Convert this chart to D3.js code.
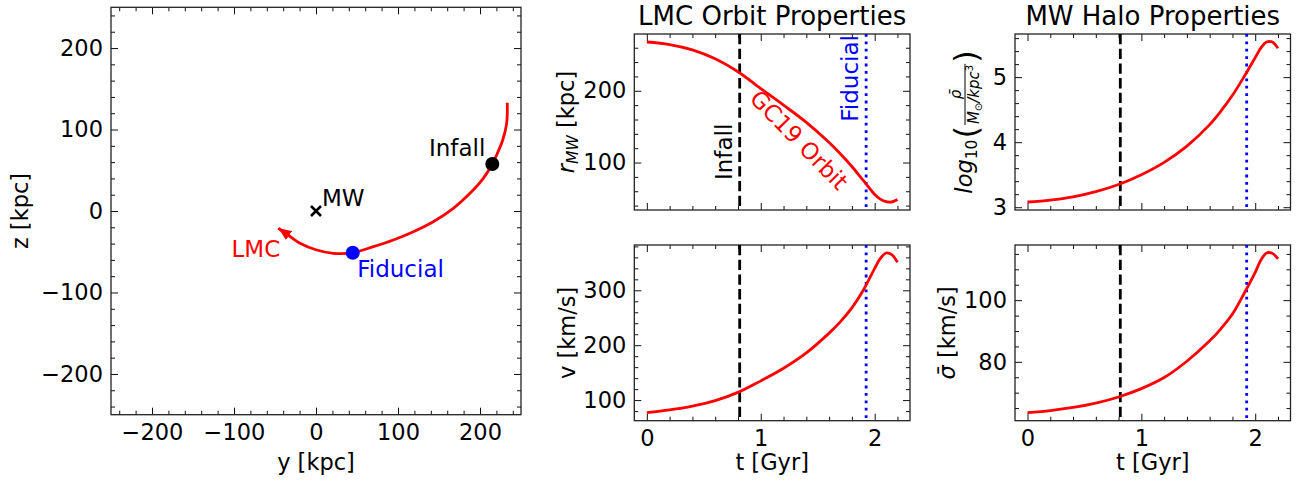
<!DOCTYPE html>
<html>
<head>
<meta charset="utf-8">
<script src="https://cdn.jsdelivr.net/npm/d3@7"></script>
<style>
  body { margin: 0; background: #fff; }
  svg { display: block; font-family: "DejaVu Sans", sans-serif; }
</style>
</head>
<body>
<svg id="fig" width="1307" height="481"></svg>
<script>
// ---- data -------------------------------------------------------------
// time since the start of the integration (Gyr)
const timeGyr      = [0, 0.2, 0.4, 0.6, 0.8, 1.0, 1.2, 1.4, 1.6, 1.7, 1.8, 1.9, 2.0, 2.05, 2.1, 2.15, 2.2];
// LMC galactocentric distance (kpc)
const radiusMW     = [268, 264.5, 257, 244.5, 226.5, 203, 180, 156, 128, 112, 94.5, 75, 55.5, 49, 45.5, 45, 48.5];
// LMC speed (km/s)
const speedLMC     = [77, 82, 89, 99, 114, 135, 158, 186, 222, 243, 268, 300, 340, 358, 368, 365, 351];
// log10 of mean MW halo density inside the LMC orbit (Msun/kpc^3)
const logDensityMW = [3.08, 3.11, 3.16, 3.24, 3.35, 3.50, 3.69, 3.94, 4.27, 4.48, 4.72, 5.0, 5.30, 5.45, 5.54, 5.54, 5.445];
// mean MW halo velocity dispersion (km/s)
const sigmaMW      = [63.5, 64.2, 65.2, 66.6, 68.6, 71.3, 74.9, 80.2, 86.8, 90.8, 95.5, 102, 109, 113, 115.3, 115.2, 113.4];

// LMC track projected on the y-z plane (kpc), from the start to the present
const orbitY = [233.3, 232.5, 227.7, 220.3, 215, 204, 187.8, 167.5, 143, 118.7, 94.3, 69.9, 44.8, 21.1, 0.8, -19.5, -35.7, -46];
const orbitZ = [132.9, 107.6, 87.1, 68.7, 57.7, 40.1, 21.7, 3.3, -13.1, -25.4, -35.6, -43.8, -51.2, -51.9, -47.9, -39.6, -28.2, -21.2];

const mwCentre      = [0, 0];
const infallPoint   = [215, 57.7];
const fiducialPoint = [44.8, -51.2];
const infallTime    = 0.815;
const fiducialTime  = 1.925;

const panelTitles = ["LMC Orbit Properties", "MW Halo Properties"];
const yzTicks      = [-200, -100, 0, 100, 200];
const timeTicks    = [0, 1, 2];
const radiusTicks  = [100, 200];
const speedTicks   = [100, 200, 300];
const densityTicks = [3, 4, 5];
const sigmaTicks   = [80, 100];

// ---- styling ------------------------------------------------------------
const RED = "#ff0000", BLUE = "#0000ff";
const TICK_FONT = 22.5, LABEL_FONT = 22.5, NOTE_FONT = 23, TITLE_FONT = 26;
const MAJOR = 7, MINOR = 4;

const svg = d3.select("#fig");

function minorValues(domain, step, majors) {
  const lo = Math.min(domain[0], domain[1]), hi = Math.max(domain[0], domain[1]);
  const out = [];
  for (let k = Math.ceil(lo / step - 1e-9); k * step <= hi + 1e-9; k++) {
    const v = +(k * step).toFixed(6);
    if (!majors.some(m => Math.abs(m - v) < 1e-6)) out.push(v);
  }
  return out;
}

function padded(values) {
  const [a, b] = d3.extent(values);
  const p = (b - a) * 0.05;
  return [a - p, b + p];
}

// frame with inward ticks on all four sides
function frame(g, x, y, opt) {
  const [x0, x1] = x.range(), [y1, y0] = y.range();
  const xMin = minorValues(x.domain(), opt.xStep, opt.xTicks);
  const yMin = minorValues(y.domain(), opt.yStep, opt.yTicks);
  const fmt = v => d3.format("d")(v);

  function put(axis, tx, ty, labels) {
    const a = g.append("g").attr("transform", `translate(${tx},${ty})`).call(axis);
    a.select(".domain").remove();
    a.attr("font-family", null).attr("font-size", TICK_FONT);
    a.selectAll("line").attr("stroke", "#111").attr("stroke-width", 1);
    a.selectAll("text").attr("fill", "#000");
    if (!labels) a.selectAll("text").remove();
    return a;
  }
  put(d3.axisBottom(x).tickValues(opt.xTicks).tickSize(-MAJOR).tickPadding(9).tickFormat(fmt), 0, y1, opt.xLabels);
  put(d3.axisBottom(x).tickValues(xMin).tickSize(-MINOR).tickFormat(""), 0, y1, false);
  put(d3.axisTop(x).tickValues(opt.xTicks).tickSize(-MAJOR).tickFormat(""), 0, y0, false);
  put(d3.axisTop(x).tickValues(xMin).tickSize(-MINOR).tickFormat(""), 0, y0, false);
  put(d3.axisLeft(y).tickValues(opt.yTicks).tickSize(-MAJOR).tickPadding(8).tickFormat(fmt), x0, 0, true);
  put(d3.axisLeft(y).tickValues(yMin).tickSize(-MINOR).tickFormat(""), x0, 0, false);
  put(d3.axisRight(y).tickValues(opt.yTicks).tickSize(-MAJOR).tickFormat(""), x1, 0, false);
  put(d3.axisRight(y).tickValues(yMin).tickSize(-MINOR).tickFormat(""), x1, 0, false);

  g.append("rect")
    .attr("x", x0).attr("y", y0).attr("width", x1 - x0).attr("height", y1 - y0)
    .attr("fill", "none").attr("stroke", "#222").attr("stroke-width", 1.3);
}

function xLabel(g, x, y, txt) {
  g.append("text").attr("x", x).attr("y", y).attr("text-anchor", "middle")
    .attr("font-size", LABEL_FONT).text(txt);
}

// ---- left panel: y-z projection of the orbit -------------------------------
const L = { x0: 111, x1: 521, y0: 7.3, y1: 414.7 };
const sy = d3.scaleLinear().domain([-250, 250]).range([L.x0, L.x1]);
const sz = d3.scaleLinear().domain([-250, 250]).range([L.y1, L.y0]);
const gL = svg.append("g");

frame(gL, sy, sz, { xTicks: yzTicks, yTicks: yzTicks, xStep: 20, yStep: 20, xLabels: true });

svg.append("defs").append("marker")
  .attr("id", "head").attr("viewBox", "0 0 10 10")
  .attr("refX", 10).attr("refY", 5)
  .attr("markerWidth", 13).attr("markerHeight", 13)
  .attr("markerUnits", "userSpaceOnUse")
  .attr("orient", "auto")
  .append("path").attr("d", "M0,0.8 L10,5 L0,9.2 Z").attr("fill", RED);

const orbitPts = orbitY.map((v, i) => [v, orbitZ[i]]);
gL.append("path")
  .datum(orbitPts)
  .attr("d", d3.line().x(d => sy(d[0])).y(d => sz(d[1])).curve(d3.curveCatmullRom.alpha(0.5)))
  .attr("fill", "none").attr("stroke", RED).attr("stroke-width", 2.8)
  .attr("marker-end", "url(#head)");

// MW centre
const mx = sy(mwCentre[0]), mz = sz(mwCentre[1]);
gL.append("path")
  .attr("d", `M${mx - 5},${mz - 5}L${mx + 5},${mz + 5}M${mx - 5},${mz + 5}L${mx + 5},${mz - 5}`)
  .attr("stroke", "#000").attr("stroke-width", 2.6);
gL.append("text").attr("x", mx + 6).attr("y", mz - 5.5).attr("font-size", NOTE_FONT).text("MW");

gL.append("circle").attr("cx", sy(infallPoint[0])).attr("cy", sz(infallPoint[1])).attr("r", 7).attr("fill", "#000");
gL.append("text").attr("x", sy(infallPoint[0]) - 7).attr("y", sz(infallPoint[1]) - 7.5)
  .attr("text-anchor", "end").attr("font-size", NOTE_FONT).text("Infall");

gL.append("circle").attr("cx", sy(fiducialPoint[0])).attr("cy", sz(fiducialPoint[1])).attr("r", 7).attr("fill", BLUE);
gL.append("text").attr("x", sy(fiducialPoint[0]) + 4.5).attr("y", sz(fiducialPoint[1]) + 24.5)
  .attr("font-size", NOTE_FONT).attr("fill", BLUE).text("Fiducial");

const tip = orbitPts[orbitPts.length - 1];
gL.append("text").attr("x", sy(tip[0]) + 2).attr("y", sz(tip[1]) + 29)
  .attr("text-anchor", "end").attr("font-size", NOTE_FONT).attr("fill", RED).text("LMC");

xLabel(gL, (L.x0 + L.x1) / 2, 470, "y [kpc]");
gL.append("text").attr("transform", `translate(28,${(L.y0 + L.y1) / 2}) rotate(-90)`)
  .attr("text-anchor", "middle").attr("font-size", LABEL_FONT).text("z [kpc]");

// ---- time-series panels -----------------------------------------------
const cols = [{ x0: 634.3, x1: 910 }, { x0: 1015, x1: 1290.5 }];
const rows = [{ y0: 34, y1: 210 }, { y0: 245, y1: 420.7 }];

function timePanel(col, row, values, yTicks, yStep, showX) {
  const x = d3.scaleLinear().domain(padded(timeGyr)).range([col.x0, col.x1]);
  const y = d3.scaleLinear().domain(padded(values)).range([row.y1, row.y0]);
  const g = svg.append("g");
  frame(g, x, y, { xTicks: timeTicks, yTicks, xStep: 0.2, yStep, xLabels: showX });

  g.append("line").attr("x1", x(infallTime)).attr("x2", x(infallTime))
    .attr("y1", row.y0).attr("y2", row.y1)
    .attr("stroke", "#000").attr("stroke-width", 2.8).attr("stroke-dasharray", "10.3,4.4");
  g.append("line").attr("x1", x(fiducialTime)).attr("x2", x(fiducialTime))
    .attr("y1", row.y0).attr("y2", row.y1)
    .attr("stroke", BLUE).attr("stroke-width", 2.8).attr("stroke-dasharray", "2.8,4.6");

  g.append("path")
    .datum(timeGyr.map((t, i) => [t, values[i]]))
    .attr("d", d3.line().x(d => x(d[0])).y(d => y(d[1])).curve(d3.curveCatmullRom.alpha(0.5)))
    .attr("fill", "none").attr("stroke", RED).attr("stroke-width", 2.8);

  if (showX) xLabel(g, (col.x0 + col.x1) / 2, 470, "t [Gyr]");
  return { g, x, y };
}

const pR = timePanel(cols[0], rows[0], radiusMW, radiusTicks, 20, false);
const pV = timePanel(cols[0], rows[1], speedLMC, speedTicks, 20, true);
const pD = timePanel(cols[1], rows[0], logDensityMW, densityTicks, 0.2, false);
const pS = timePanel(cols[1], rows[1], sigmaMW, sigmaTicks, 5, true);

// titles
cols.forEach((c, i) => {
  svg.append("text").attr("x", (c.x0 + c.x1) / 2).attr("y", 24.5)
    .attr("text-anchor", "middle").attr("font-size", TITLE_FONT).text(panelTitles[i]);
});

// annotations in the distance panel
pR.g.append("text")
  .attr("transform", `translate(${pR.x(infallTime) - 8},${180}) rotate(-90)`)
  .attr("font-size", NOTE_FONT).text("Infall");
pR.g.append("text")
  .attr("transform", `translate(${pR.x(fiducialTime) - 8},${121.7}) rotate(-90)`)
  .attr("font-size", NOTE_FONT).attr("fill", BLUE).text("Fiducial");
pR.g.append("text")
  .attr("transform", `translate(799,140) rotate(45.6)`)
  .attr("text-anchor", "middle").attr("dominant-baseline", "central")
  .attr("font-size", NOTE_FONT).attr("fill", RED).text("GC19 Orbit");

// y-axis labels
function yLabel(x, row, build) {
  const t = svg.append("text")
    .attr("transform", `translate(${x},${(row.y0 + row.y1) / 2}) rotate(-90)`)
    .attr("text-anchor", "middle").attr("font-size", LABEL_FONT);
  build(t);
}
yLabel(574, rows[0], t => {
  t.append("tspan").attr("font-style", "italic").text("r");
  t.append("tspan").attr("font-style", "italic").attr("font-size", 15.5).attr("dy", 4).text("MW");
  t.append("tspan").attr("dy", -4).text(" [kpc]");
});
yLabel(575, rows[1], t => { t.text("v [km/s]"); });
yLabel(955, rows[1], t => {
  t.append("tspan").attr("font-style", "italic").text("\u03C3\u0304");
  t.append("tspan").text(" [km/s]");
});

// density label: log10( rho-bar / (Msun/kpc^3) ), laid out piece by piece
(function () {
  const g = svg.append("g");
  const inner = g.append("g");
  let cx = 0;
  function piece(txt, size, dy, italic) {
    const t = inner.append("text").attr("x", cx).attr("y", dy).attr("font-size", size)
      .attr("font-style", italic ? "italic" : null).text(txt);
    cx += t.node().getComputedTextLength();
    return t;
  }
  piece("log", 22.5, 0, true);
  piece("10", 15.5, 5, false);
  cx += 1;
  piece("(", 32, 5, false);
  // fraction
  const fs = 15;
  const num = inner.append("text").attr("font-size", fs).attr("font-style", "italic")
    .attr("text-anchor", "middle").text("\u03C1\u0304");
  const den = inner.append("text").attr("font-size", fs).attr("text-anchor", "middle");
  den.append("tspan").attr("font-style", "italic").text("M");
  den.append("tspan").attr("font-size", 10).attr("dy", 3).text("\u2299");
  den.append("tspan").attr("font-style", "italic").attr("dy", -3).text("/kpc");
  den.append("tspan").attr("font-size", 10).attr("dy", -6).text("3");
  const w = Math.max(num.node().getComputedTextLength(), den.node().getComputedTextLength()) + 4;
  const mid = cx + w / 2, axisY = -7;
  num.attr("x", mid).attr("y", axisY - 4);
  den.attr("x", mid).attr("y", axisY + 14);
  inner.append("line").attr("x1", cx + 1).attr("x2", cx + w - 1).attr("y1", axisY).attr("y2", axisY)
    .attr("stroke", "#000").attr("stroke-width", 1);
  cx += w;
  piece(")", 32, 5, false);
  inner.attr("transform", `translate(${-cx / 2},0)`);
  g.attr("transform", `translate(972,${(rows[0].y0 + rows[0].y1) / 2}) rotate(-90)`);
})();
</script>
</body>
</html>
